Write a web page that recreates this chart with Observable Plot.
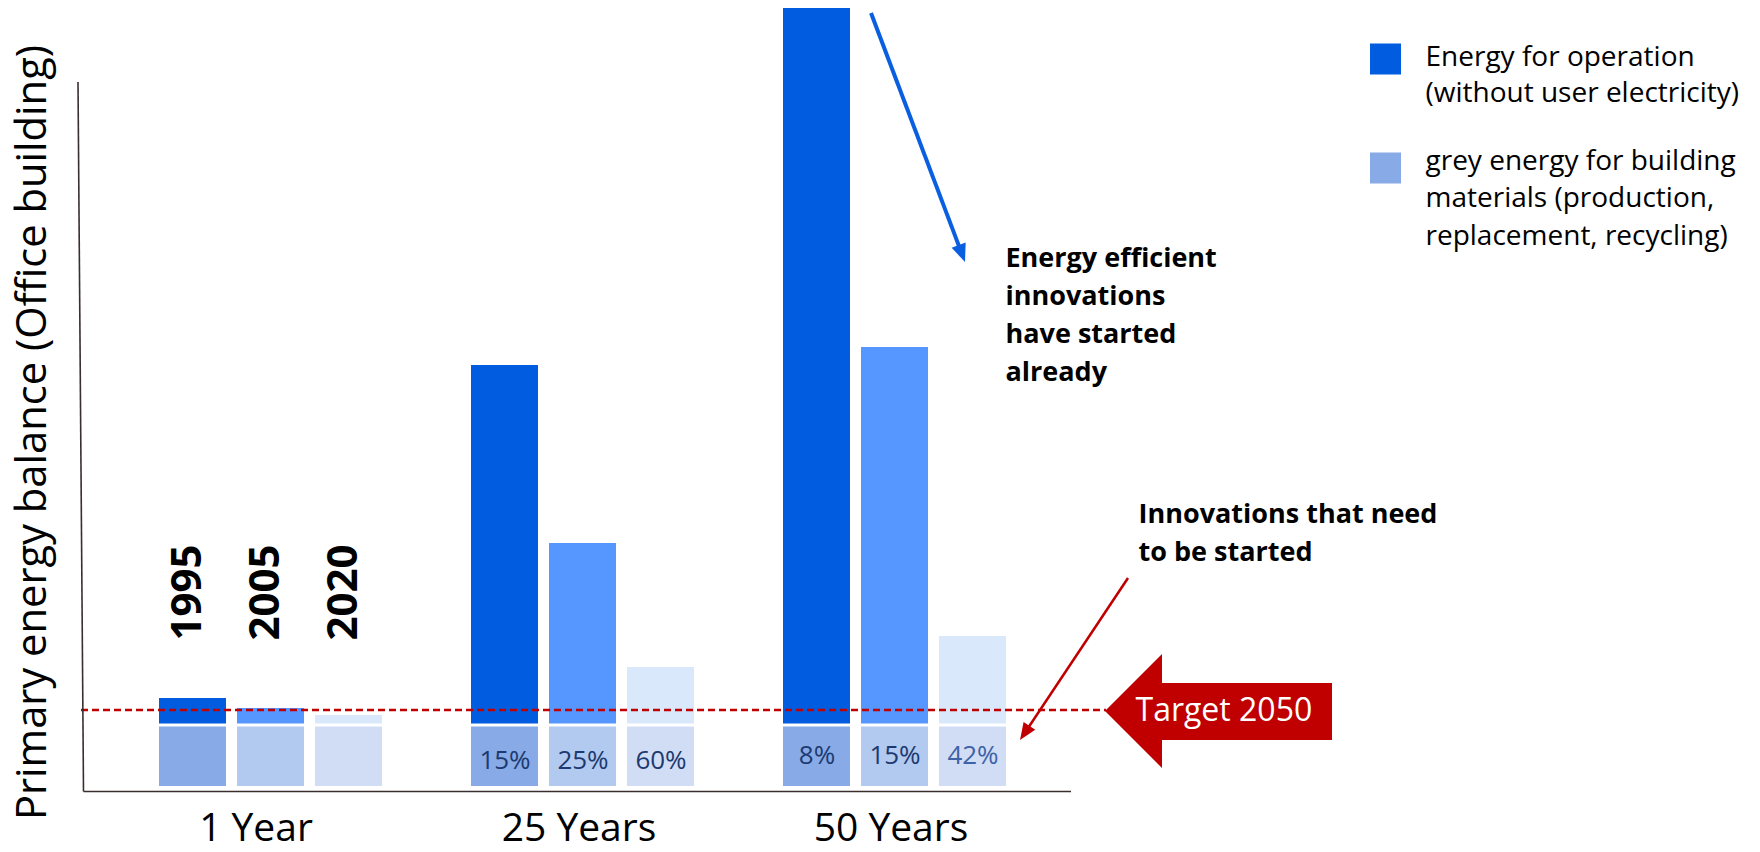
<!DOCTYPE html>
<html><head><meta charset="utf-8">
<script src="https://cdn.jsdelivr.net/npm/d3@7"></script>
<script src="https://cdn.jsdelivr.net/npm/@observablehq/plot@0.6"></script>
<style>html,body{margin:0;padding:0;background:#fff;} #chart{width:1760px;height:852px;}</style>
</head><body><div id="chart"></div>
<script>
// ---- data ----
const groups = ["1 Year", "25 Years", "50 Years"];
const years = ["1995", "2005", "2020"];
const operation1Y = [2.7, 1.7, 1.0];
const operation25Y = [36.0, 18.2, 5.8];
const operation50Y = [71.7, 37.8, 8.9];
const grey1Y = [6.1, 6.1, 6.1];
const grey25Y = [6.1, 6.1, 6.1];
const grey50Y = [6.1, 6.1, 6.1];
const greyShare25Y = ["15%", "25%", "60%"];
const greyShare50Y = ["8%", "15%", "42%"];
const target2050 = 7.65;
const yTitle = "Primary energy balance (Office building)";
const legendLabels = ["Energy for operation\n(without user electricity)", "grey energy for building\nmaterials (production,\nreplacement, recycling)"];
const annotations = ["Energy efficient\ninnovations\nhave started\nalready", "Innovations that need\nto be started"];
const targetLabel = "Target 2050";

// ---- styles ----
const opColors = ["#025CE0", "#5596FF", "#DAE8FC"];
const greyColors = ["#88AAE6", "#B2C9F0", "#D1DDF5"];
const shareColors = [["#1C3A70", "#1C3A70", "#1C3A70"], ["#1C3A70", "#1C3A70", "#1C3A70"], ["#1C3A70", "#1C3A70", "#3E62A6"]];
const OPEN = "'Open Sans', sans-serif";

// ---- table ----
const opByGroup = [operation1Y, operation25Y, operation50Y];
const greyByGroup = [grey1Y, grey25Y, grey50Y];
const shareByGroup = [null, greyShare25Y, greyShare50Y];
const rows = groups.flatMap((g, gi) => years.map((yr, yi) => ({
  group: g, year: yr, slot: `${g} ${yr}`,
  op: opByGroup[gi][yi], grey: greyByGroup[gi][yi],
  share: shareByGroup[gi] ? shareByGroup[gi][yi] : null,
  opColor: opColors[yi], greyColor: greyColors[yi], shareColor: shareColors[gi][yi]
})));
const slots = [];
groups.forEach((g, gi) => { if (gi > 0) slots.push(`gap${gi}`); years.forEach(y => slots.push(`${g} ${y}`)); });
const catX = g => `${g} ${years[1]}`;

const plot = Plot.plot({
  width: 1760, height: 852,
  marginLeft: 81, marginRight: 654, marginTop: 0, marginBottom: 66,
  style: {background: "#fff", fontFamily: OPEN},
  x: {type: "band", domain: slots, range: [143.1, 1022.7], padding: 0.139, axis: null},
  y: {domain: [0, 78.6], axis: null},
  color: {type: "identity"},
  marks: [
    Plot.barY(rows, {x: "slot", y1: 0, y2: "grey", fill: "greyColor", insetTop: 1.5}),
    Plot.barY(rows, {x: "slot", y1: "grey", y2: d => d.grey + d.op, fill: "opColor", insetBottom: 1.5}),
    Plot.ruleY([target2050], {stroke: "#C00000", strokeWidth: 2.5, strokeDasharray: "7,4"}),
    Plot.text(rows.filter(d => d.group === groups[1]), {x: "slot", y: d => d.grey / 2, text: "share", fill: "shareColor", fontSize: 26, dy: 5}),
    Plot.text(rows.filter(d => d.group === groups[2]), {x: "slot", y: d => d.grey / 2, text: "share", fill: "shareColor", fontSize: 26, dy: 0}),
    Plot.text(rows.filter(d => d.group === groups[0]), {x: "slot", text: "year", frameAnchor: "bottom", dx: 8, dy: -146, rotate: -90, textAnchor: "start", fontSize: 42, fontWeight: 700, fill: "#000"}),
    Plot.text(groups.slice(0, 1), {x: catX, text: d => d, frameAnchor: "bottom", dy: 54, dx: -15, lineAnchor: "bottom", fontSize: 39, fill: "#000"}),
    Plot.text(groups.slice(1), {x: catX, text: d => d, frameAnchor: "bottom", dy: 54, dx: -4, lineAnchor: "bottom", fontSize: 39, fill: "#000"}),
    Plot.text([yTitle], {frameAnchor: "left", rotate: -90, dx: -49, dy: 39, textAnchor: "middle", fontSize: 41.7, fill: "#000"}),
    Plot.dot([0], {frameAnchor: "top-left", dx: 1304, dy: 58.5, symbol: "square", r: 17.5, fill: opColors[0]}),
    Plot.dot([0], {frameAnchor: "top-left", dx: 1304, dy: 167.5, symbol: "square", r: 17.5, fill: greyColors[0]}),
    Plot.text([legendLabels[0]], {frameAnchor: "top-left", dx: 1344, dy: 101, textAnchor: "start", lineAnchor: "bottom", lineHeight: 1.286, fontSize: 28, fill: "#000"}),
    Plot.text([legendLabels[1]], {frameAnchor: "top-left", dx: 1344, dy: 244, textAnchor: "start", lineAnchor: "bottom", lineHeight: 1.339, fontSize: 28, fill: "#000"}),
    Plot.text([annotations[0]], {frameAnchor: "top-left", dx: 924, dy: 380, textAnchor: "start", lineAnchor: "bottom", lineHeight: 38 / 27, fontSize: 27, fontWeight: 700, fill: "#000"}),
    Plot.text([annotations[1]], {frameAnchor: "top-left", dx: 1057, dy: 560, textAnchor: "start", lineAnchor: "bottom", lineHeight: 38 / 27, fontSize: 27, fontWeight: 700, fill: "#000"}),
    Plot.text([targetLabel], {y: target2050, frameAnchor: "right", dx: 29, dy: 10.5, textAnchor: "start", lineAnchor: "bottom", fontSize: 32, fill: "#fff"})
  ]
});

// ---- overlays: axis lines, arrows, target arrow shape ----
const svg = d3.select(plot);
const ty = plot.scale("y").apply(target2050);
const c = ty + 1.5;
const under = svg.insert("g", ":first-child");
under.append("polygon")
  .attr("points", [[1105, c], [1162, c - 57], [1162, c - 28], [1332, c - 28], [1332, c + 29], [1162, c + 29], [1162, c + 57]].map(p => p.join(",")).join(" "))
  .attr("fill", "#C00000");

const axes = svg.append("g").attr("stroke", "#3a2e2e").attr("stroke-width", 1.6).attr("fill", "none");
axes.append("line").attr("x1", 78).attr("y1", 82).attr("x2", 83.5).attr("y2", 791.5);
axes.append("line").attr("x1", 83.5).attr("y1", 791.5).attr("x2", 1071).attr("y2", 791.5);

function arrow(g, x1, y1, x2, y2, color, w, hl, hw) {
  const dx = x2 - x1, dy = y2 - y1, L = Math.hypot(dx, dy);
  const ux = dx / L, uy = dy / L, px = -uy, py = ux;
  const bx = x2 - ux * hl, by = y2 - uy * hl;
  g.append("line").attr("x1", x1).attr("y1", y1).attr("x2", bx + ux).attr("y2", by + uy)
    .attr("stroke", color).attr("stroke-width", w);
  g.append("polygon").attr("points", [[x2, y2], [bx + px * hw, by + py * hw], [bx - px * hw, by - py * hw]].map(p => p.join(",")).join(" "))
    .attr("fill", color);
}
const arr = svg.append("g");
arrow(arr, 871, 13, 965, 262, "#0A5FE0", 4, 18, 7.5);
arrow(arr, 1128, 578, 1020, 740, "#C00000", 2.5, 17, 7);

document.getElementById("chart").appendChild(plot);
</script>
</body></html>
